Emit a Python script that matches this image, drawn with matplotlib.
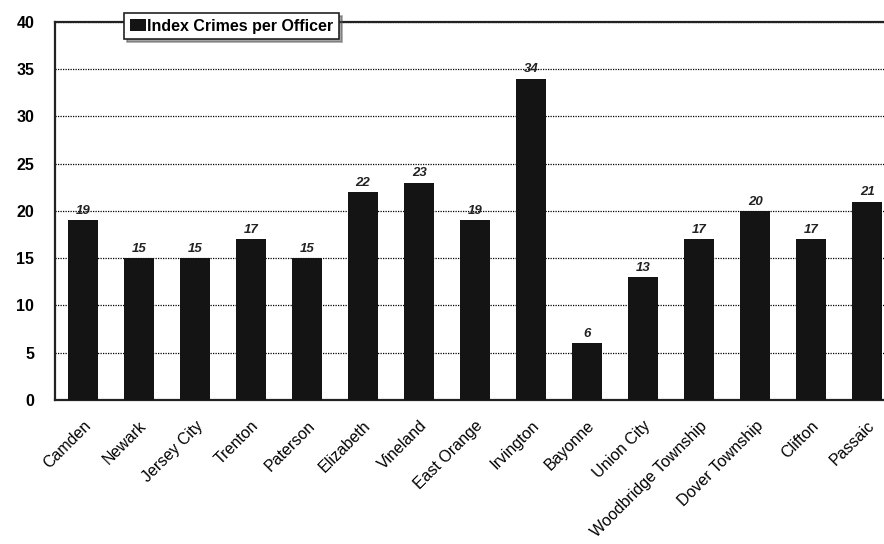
import numpy as np
import matplotlib
matplotlib.use("Agg")
from matplotlib import pyplot as plt

cidades = ['Camden', 'Newark', 'Jersey City', 'Trenton', 'Paterson', 'Elizabeth',
           'Vineland', 'East Orange', 'Irvington', 'Bayonne', 'Union City',
           'Woodbridge Township', 'Dover Township', 'Clifton', 'Passaic']
crimes_por_policial = [19, 15, 15, 17, 15, 22, 23, 19, 34, 6, 13, 17, 20, 17, 21]
ticks_y = [0, 5, 10, 15, 20, 25, 30, 35, 40]

plt.rcParams['font.family'] = ['Liberation Sans', 'DejaVu Sans']

fig = plt.figure(figsize=(8.84, 5.44), dpi=100)
ax = fig.add_axes([0.0622, 0.2647, 0.9378, 0.695])

x = np.arange(len(cidades))
barras = ax.bar(x, crimes_por_policial, width=0.54, color='#141414',
                label='Index Crimes per Officer', zorder=3)

for xi, v in zip(x, crimes_por_policial):
    ax.text(xi, v + 0.35, str(v), ha='center', va='bottom', fontsize=9.5,
            fontweight='bold', fontstyle='italic', color='#222222')

ax.set_ylim(0, 40)
ax.set_xlim(-0.5, 14.3)
ax.set_yticks(ticks_y)
ax.set_yticklabels([str(t) for t in ticks_y], fontsize=11.5, fontweight='bold')
ax.set_xticks(x)
ax.set_xticklabels(cidades, rotation=45, ha='right', rotation_mode='anchor',
                   fontsize=11.5)
ax.tick_params(axis='both', length=0)
ax.tick_params(axis='x', pad=13)
ax.tick_params(axis='y', pad=15)

ax.yaxis.grid(True, linestyle=(0, (1, 1)), color='black', linewidth=0.9, zorder=0)
ax.set_axisbelow(True)

for lado in ['left', 'top', 'bottom']:
    ax.spines[lado].set_linewidth(1.6)
    ax.spines[lado].set_color('#222222')
ax.spines['right'].set_visible(False)

leg = ax.legend(loc='upper left', bbox_to_anchor=(124 / 884, 1 - 13 / 544),
                bbox_transform=fig.transFigure, borderaxespad=0,
                frameon=True, shadow=True,
                fancybox=False, handlelength=1.0, handleheight=0.8,
                handletextpad=0.1, borderpad=0.35, prop={'size': 11.5, 'weight': 'bold'})
leg.get_frame().set_edgecolor('#222222')
leg.get_frame().set_linewidth(1.2)
leg.set_zorder(5)

fig.savefig('out.png', dpi=100)
